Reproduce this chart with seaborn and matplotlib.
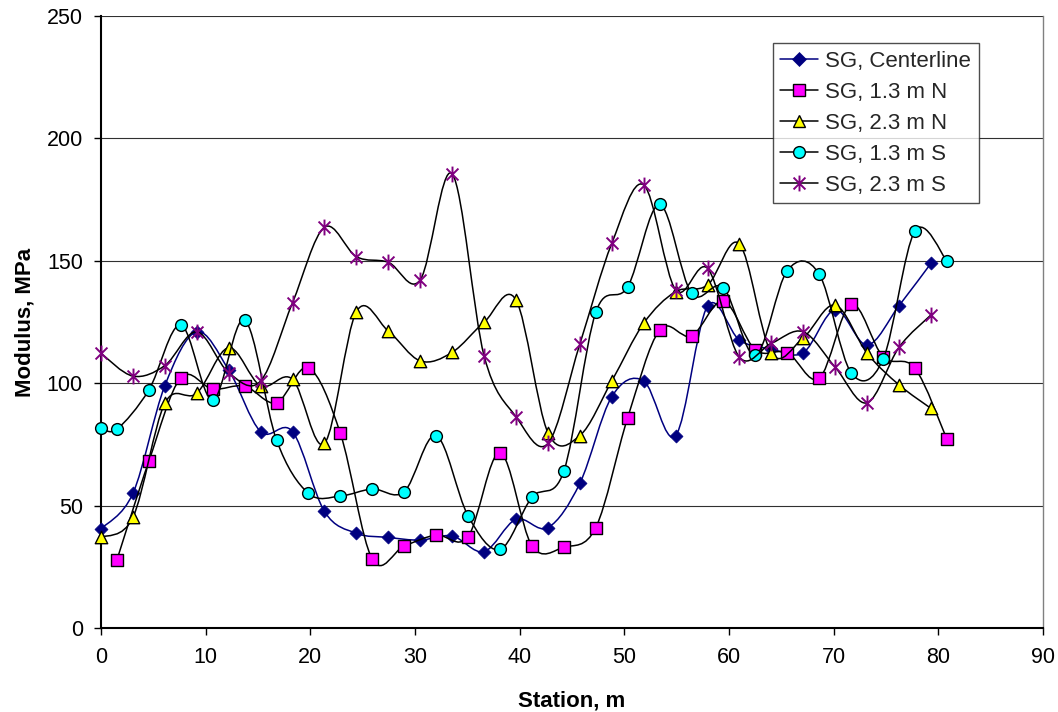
import numpy as np
import pandas as pd
import matplotlib
matplotlib.use("Agg")
import matplotlib.pyplot as plt
from matplotlib.path import Path
from matplotlib.patches import PathPatch
from matplotlib.lines import Line2D
import seaborn as sns

# ---------------- data ----------------
x_even = [0, 3.05, 6.1, 9.15, 12.2, 15.25, 18.3, 21.35, 24.4, 27.45, 30.5, 33.55,
          36.6, 39.65, 42.7, 45.75, 48.8, 51.85, 54.9, 57.95, 61.0, 64.05, 67.1,
          70.15, 73.2, 76.25, 79.3]
x_odd = [1.52, 4.57, 7.62, 10.67, 13.72, 16.77, 19.82, 22.87, 25.92, 28.97, 32.02,
         35.07, 38.12, 41.17, 44.22, 47.27, 50.32, 53.37, 56.42, 59.47, 62.52,
         65.57, 68.62, 71.67, 74.72, 77.77, 80.82]
x_s13 = [0] + x_odd

centerline = [40.5, 55, 99, 121, 105.4, 80.2, 80.2, 47.6, 38.7, 37, 35.9, 37.6, 31.2,
              44.4, 41, 59.1, 94.5, 100.9, 78.6, 131.5, 117.6, 114, 112.5, 130,
              115.6, 131.7, 149]
n13 = [27.8, 68.1, 102.2, 97.6, 98.8, 92, 106.3, 79.5, 28.1, 33.5, 38, 37.3, 71.6,
       33.6, 33, 41, 85.9, 121.7, 119.3, 133.6, 113.6, 112.5, 102, 132.2, 110.8,
       106.1, 77.1]
n23 = [37, 45.2, 91.8, 95.9, 114.5, 98.9, 101.6, 75.4, 129.2, 121.3, 109.1, 112.6,
       124.9, 134, 79.8, 78.6, 100.9, 124.5, 137.4, 140.1, 156.9, 112.2, 118.6,
       131.9, 112.2, 99.3, 89.7]
s13 = [81.8, 81.2, 97.2, 123.8, 93.1, 125.8, 76.8, 55, 53.9, 56.8, 55.7, 78.6, 45.8,
       32.1, 53.4, 64.1, 128.9, 139.4, 173, 136.7, 139, 111.5, 146, 144.5, 104.3,
       109.8, 162.2, 149.9]
s23 = [112.2, 102.9, 107.2, 121, 104.3, 100.9, 132.9, 163.7, 151.7, 149.4, 142.2,
       185.5, 111.2, 86.3, 75.4, 116, 157.1, 181, 138.1, 146.9, 110.6, 116.3, 121,
       106.5, 92, 114.7, 127.9]

labels = ["SG, Centerline", "SG, 1.3 m N", "SG, 2.3 m N", "SG, 1.3 m S", "SG, 2.3 m S"]
x_ticks = [0, 10, 20, 30, 40, 50, 60, 70, 80, 90]
y_ticks = [0, 50, 100, 150, 200, 250]

# ---------------- style ----------------
sns.set_theme(style="white")
plt.rcParams['font.family'] = ['Liberation Sans', 'DejaVu Sans']

star = Path([(0, -1), (0, 1), (-0.75, -0.75), (0.75, 0.75), (-0.75, 0.75), (0.75, -0.75)],
            [Path.MOVETO, Path.LINETO, Path.MOVETO, Path.LINETO, Path.MOVETO, Path.LINETO])

series = [
    dict(x=x_even, y=centerline, label=labels[0], line="#000080", marker="D", face="#000080",
         edge="#000080", s=44, lw=0.5),
    dict(x=x_odd, y=n13, label=labels[1], line="black", marker="s", face="#FF00FF",
         edge="black", s=72, lw=1.0),
    dict(x=x_even, y=n23, label=labels[2], line="black", marker="^", face="#FFFF00",
         edge="black", s=80, lw=1.0),
    dict(x=x_s13, y=s13, label=labels[3], line="black", marker="o", face="#00FFFF",
         edge="black", s=72, lw=1.0),
    dict(x=x_even, y=s23, label=labels[4], line="black", marker=star, face="#800080",
         edge="#800080", s=130, lw=1.4),
]


def smooth_path(xs, ys):
    """Catmull-Rom style cubic Bezier path through the data points (Excel 'smoothed line')."""
    p = np.column_stack([xs, ys]).astype(float)
    n = len(p)
    verts = [tuple(p[0])]
    codes = [Path.MOVETO]
    for i in range(n - 1):
        p0 = p[i - 1] if i > 0 else p[i]
        p1 = p[i]
        p2 = p[i + 1]
        p3 = p[i + 2] if i + 2 < n else p[i + 1]
        c1 = p1 + (p2 - p0) / 6.0
        c2 = p2 - (p3 - p1) / 6.0
        verts += [tuple(c1), tuple(c2), tuple(p2)]
        codes += [Path.CURVE4] * 3
    return Path(verts, codes)


fig = plt.figure(figsize=(10.58, 7.12), dpi=100)
ax = fig.add_axes([101 / 1058, 1 - 628 / 712, 942 / 1058, 612 / 712])

handles = []
for k, sd in enumerate(series):
    z = 3 + 2 * k
    patch = PathPatch(smooth_path(sd["x"], sd["y"]), facecolor="none",
                      edgecolor=sd["line"], lw=1.1, zorder=z)
    ax.add_patch(patch)
    df = pd.DataFrame({"x": sd["x"], "y": sd["y"]})
    sns.scatterplot(data=df, x="x", y="y", ax=ax, marker=sd["marker"], s=sd["s"],
                    color=sd["face"], edgecolor=sd["edge"], linewidth=sd["lw"],
                    zorder=z + 1, clip_on=False, legend=False)
    handles.append(Line2D([0], [0], color=sd["line"], lw=1.1, marker=sd["marker"],
                          markersize=np.sqrt(sd["s"]), markerfacecolor=sd["face"],
                          markeredgecolor=sd["edge"], markeredgewidth=sd["lw"],
                          label=sd["label"]))

ax.set_xlim(0, 90)
ax.set_ylim(0, 250)
ax.set_xticks(x_ticks)
ax.set_yticks(y_ticks)
ax.yaxis.grid(True, color="#303030", lw=0.8)
ax.xaxis.grid(False)
ax.set_axisbelow(True)

for side in ["left", "bottom"]:
    ax.spines[side].set_color("black")
    ax.spines[side].set_linewidth(1.5)
ax.spines["top"].set_visible(False)
ax.spines["right"].set_color("#808080")
ax.spines["right"].set_linewidth(1.0)

ax.tick_params(axis="both", which="major", direction="out", length=5, width=1,
               color="black", labelsize=15.5, labelcolor="black")
ax.tick_params(axis="x", pad=9)
ax.tick_params(axis="y", pad=8, left=True)
ax.tick_params(axis="x", bottom=True)

ax.set_xlabel("Station, m", fontsize=16, fontweight="bold", labelpad=16, color="black")
ax.set_ylabel("Modulus, MPa", fontsize=16, fontweight="bold", labelpad=8, color="black")

leg = ax.legend(handles=handles, loc="upper left", bbox_to_anchor=(0.713, 0.956),
                borderaxespad=0, fontsize=16, frameon=True, fancybox=False,
                handlelength=1.7, handletextpad=0.3, borderpad=0.35,
                labelspacing=0.45)
leg.get_frame().set_edgecolor("#202020")
leg.get_frame().set_linewidth(1.0)
leg.set_zorder(20)

fig.savefig("out.png", dpi=100)
